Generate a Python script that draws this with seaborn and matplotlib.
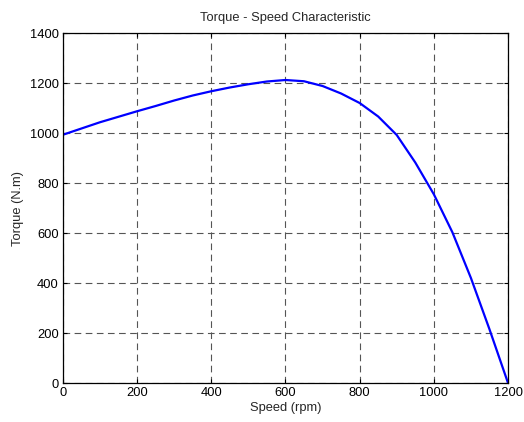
import matplotlib
matplotlib.use("Agg")
import matplotlib.pyplot as plt
import seaborn as sns
import pandas as pd

speed_rpm = [0, 50, 100, 150, 200, 250, 300, 350, 400, 450, 500, 550, 600,
             650, 700, 750, 800, 850, 900, 950, 1000, 1050, 1100, 1150, 1200]
torque_nm = [993, 1018, 1043, 1065, 1087, 1108, 1130, 1150, 1167, 1182, 1195, 1206, 1212,
             1207, 1188, 1158, 1120, 1066, 992, 882, 755, 603, 420, 215, 0]
x_ticks = [0, 200, 400, 600, 800, 1000, 1200]
y_ticks = [0, 200, 400, 600, 800, 1000, 1200, 1400]

sns.set_style("white")
plt.rcParams['font.family'] = ['Liberation Sans', 'DejaVu Sans']

df = pd.DataFrame({"Speed": speed_rpm, "Torque": torque_nm})

fig = plt.figure(figsize=(5.24, 4.22), dpi=100)
ax = fig.add_axes([0.120, 0.0924, 0.8495, 0.8294])
sns.lineplot(data=df, x="Speed", y="Torque", ax=ax, color="#0000ff", linewidth=1.6)

fs = 9.3
ax.set_xlim(0, 1200)
ax.set_ylim(0, 1400)
ax.set_xticks(x_ticks)
ax.set_yticks(y_ticks)
ax.set_xticklabels([str(v) for v in x_ticks], fontsize=fs)
ax.set_yticklabels([str(v) for v in y_ticks], fontsize=fs)
ax.grid(True, linestyle=(0, (6, 4)), color="#555555", linewidth=0.8)
ax.set_axisbelow(True)
ax.tick_params(direction="in", length=3, width=0.8, top=True, right=True,
               bottom=True, left=True, pad=3, colors="black")
for s in ax.spines.values():
    s.set_visible(True)
    s.set_color("black")
    s.set_linewidth(0.9)
ax.set_xlabel("Speed (rpm)", fontsize=fs, labelpad=2)
ax.set_ylabel("Torque (N.m)", fontsize=fs, labelpad=4)
ax.set_title("Torque - Speed Characteristic", fontsize=fs, pad=9)

fig.savefig("out.png", dpi=100)
